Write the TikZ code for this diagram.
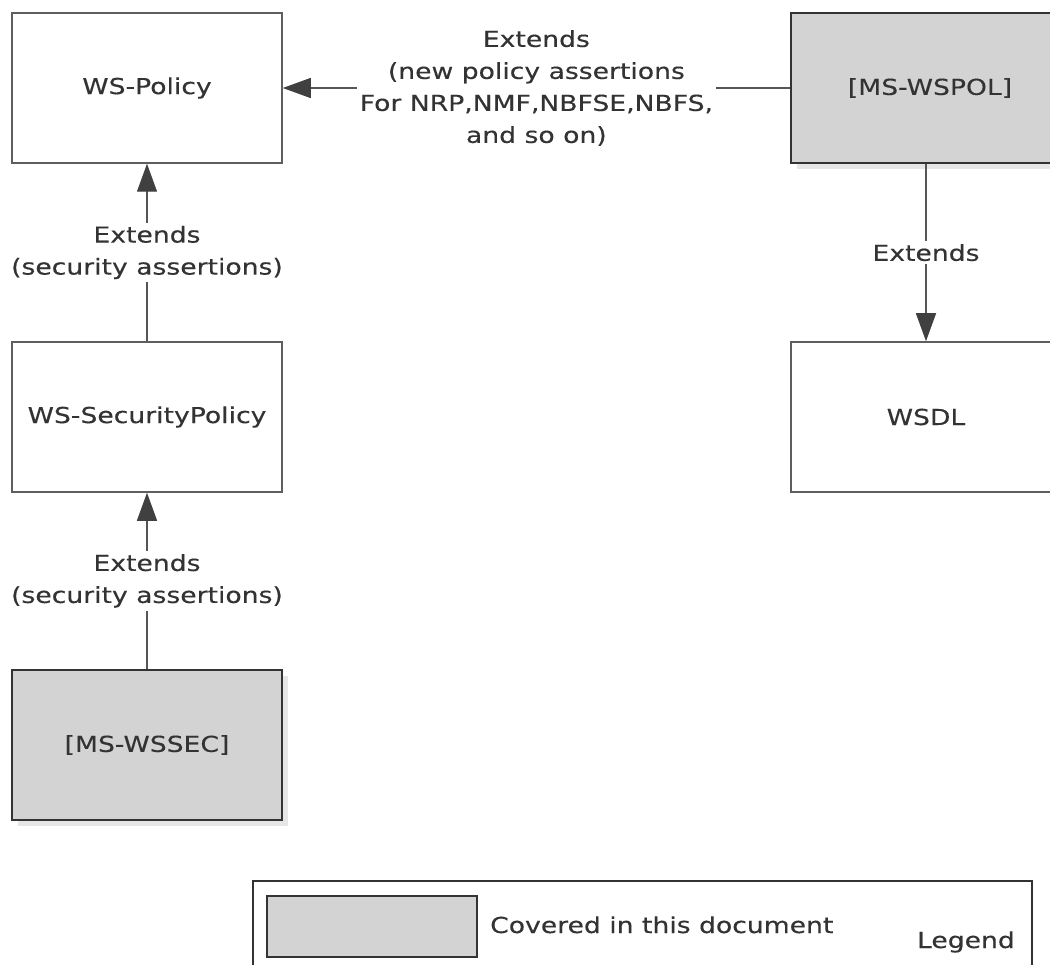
\documentclass[tikz,border=0pt]{standalone}
\usepackage{fontspec}
\setmainfont[FakeStretch=1.21,FakeBold=0.25]{DejaVu Sans}
\usetikzlibrary{arrows.meta,shadows}
\definecolor{txt}{HTML}{333333}
\definecolor{boxline}{HTML}{5E5E5E}
\definecolor{darkline}{HTML}{333333}
\definecolor{covfill}{HTML}{D3D3D3}
\definecolor{shadowc}{HTML}{E6E6E6}
\definecolor{linec}{HTML}{555555}
\definecolor{arrowc}{HTML}{404040}
\begin{document}
\begin{tikzpicture}[x=1pt,y=-1pt,
  every node/.style={font=\fontsize{22}{32}\selectfont, text=txt},
  box/.style={draw=boxline, line width=1.5pt, fill=white, minimum width=270pt, minimum height=150pt, inner sep=0pt},
  covered/.style={box, draw=darkline, line width=2pt, fill=covfill,
    drop shadow={shadow xshift=6pt, shadow yshift=-6pt, fill=shadowc, draw=none, opacity=1}},
  conn/.style={draw=linec, line width=1.3pt, -{Triangle[length=28pt,width=20pt,color=arrowc,fill=arrowc]}},
  lbl/.style={fill=white, align=center, inner sep=3pt},
  legbox/.style={draw=darkline, line width=2pt, fill=white, inner sep=0pt}]
\path[use as bounding box, clip] (0,0) rectangle (1050,965);

\node[box] (wspolicy) at (147,88) {WS-Policy};
\node[covered] (mswspol) at (926,88) {\hspace*{8pt}[MS-WSPOL]};
\node[box] (secpol) at (147,417) {WS-SecurityPolicy};
\node[box] (wsdl) at (926,417) {WSDL};
\node[covered] (wssec) at (147,745) {[MS-WSSEC]};

\draw[conn] (mswspol.west) -- node[lbl] (lbltop) {Extends\\(new policy assertions\\For NRP,NMF,NBFSE,NBFS,\\and so on)} (wspolicy.east);
\draw[conn] (secpol.north) -- node[lbl] (lblsec) {Extends\\(security assertions)} (wspolicy.south);
\draw[conn] (wssec.north) -- node[lbl] (lblwssec) {Extends\\(security assertions)} (secpol.south);
\draw[conn] (mswspol.south) -- node[lbl] (lblwsdl) {Extends} (wsdl.north);

\node[legbox, minimum width=779pt, minimum height=130pt, anchor=north west] (legend) at (252,880) {};
\node[legbox, fill=covfill, minimum width=210pt, minimum height=61pt] (legsw) at (372,926) {};
\node[anchor=base west, inner sep=0pt] (legtxt) at (490,933) {Covered in this document};
\node[anchor=base east, inner sep=0pt] (legname) at (1015,948) {Legend};
\end{tikzpicture}
\end{document}
